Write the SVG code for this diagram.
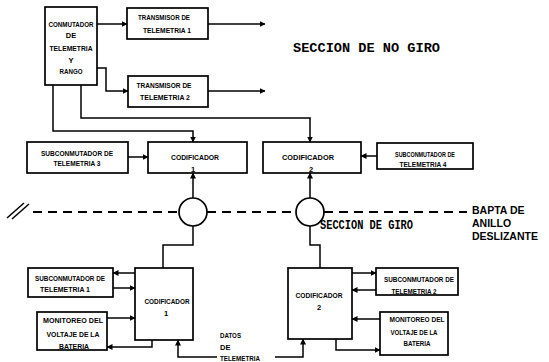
<svg xmlns="http://www.w3.org/2000/svg" width="549" height="362" viewBox="0 0 549 362">
<style>
.box{fill:#fff;stroke:#000;stroke-width:1.7}
.lbl{font-family:"Liberation Sans",Arial,sans-serif;font-weight:bold;font-size:7.5px;fill:#000;text-anchor:middle}
.st{text-anchor:start}
.con{fill:none;stroke:#000;stroke-width:1.5}
.dash{fill:none;stroke:#000;stroke-width:1.8;stroke-dasharray:9 6}
.sec{font-family:"Liberation Mono","Courier New",monospace;font-weight:bold;fill:#000}
.side{font-family:"Liberation Sans",Arial,sans-serif;font-weight:bold;font-size:10.5px;fill:#000}
</style>
<defs>
<marker id="ah" markerWidth="6" markerHeight="6" refX="5.5" refY="3" orient="auto" markerUnits="userSpaceOnUse">
<path d="M0,0 L6,3 L0,6 Z" fill="#000"/>
</marker>
</defs>
<rect width="549" height="362" fill="#fff"/>

<g id="connectors">
<path class="con" d="M97,24 H127" marker-end="url(#ah)"/>
<path class="con" d="M208,24 H265" marker-end="url(#ah)"/>
<path class="con" d="M97,68 H106 V91 H128" marker-end="url(#ah)"/>
<path class="con" d="M208,91 H265" marker-end="url(#ah)"/>
<path class="con" d="M53,85 V131 H193 V142" marker-end="url(#ah)"/>
<path class="con" d="M81,85 V118 H310 V142" marker-end="url(#ah)"/>
<path class="con" d="M128,157 H148" marker-end="url(#ah)"/>
<path class="con" d="M377,156 H361" marker-end="url(#ah)"/>
<path class="con" d="M193,198 V173" marker-end="url(#ah)"/>
<path class="con" d="M310,198 V173" marker-end="url(#ah)"/>
<path class="con" d="M193,226 V245 H163 V268"/>
<path class="con" d="M310,226 V245 H320 V268"/>
<path class="con" d="M135,273 H113" marker-end="url(#ah)"/>
<path class="con" d="M113,288 H135" marker-end="url(#ah)"/>
<path class="con" d="M107,318 H135" marker-end="url(#ah)"/>
<path class="con" d="M152,340 V347 H107" marker-end="url(#ah)"/>
<path class="con" d="M217,357 H178 V340" marker-end="url(#ah)"/>
<path class="con" d="M275,357 H303 V339" marker-end="url(#ah)"/>
<path class="con" d="M352,273 H376" marker-end="url(#ah)"/>
<path class="con" d="M376,290 H352" marker-end="url(#ah)"/>
<path class="con" d="M380,319 H352" marker-end="url(#ah)"/>
<path class="con" d="M336,339 V350 H380" marker-end="url(#ah)"/>
</g>

<g id="slip-ring-line">
<path class="dash" d="M33,212 H180 M207,212 H296 M324,212 H467"/>
<path class="con" stroke-width="1.8" d="M7,218 L24,203 M12,219 L29,204"/>
</g>

<g id="conmutador">
<rect class="box" x="45" y="7" width="52" height="78"/>
<text class="lbl" x="71" y="27" textLength="45" lengthAdjust="spacingAndGlyphs">CONMUTADOR</text>
<text class="lbl" x="71" y="37.5">DE</text>
<text class="lbl" x="71" y="51" textLength="43" lengthAdjust="spacingAndGlyphs">TELEMETRIA</text>
<text class="lbl" x="71" y="63">Y</text>
<text class="lbl" x="71" y="74" textLength="23" lengthAdjust="spacingAndGlyphs">RANGO</text>
</g>

<g id="transmisor1">
<rect class="box" x="127" y="8" width="81" height="31"/>
<text class="lbl" x="164" y="19.5" textLength="52" lengthAdjust="spacingAndGlyphs">TRANSMISOR DE</text>
<text class="lbl" x="167" y="33" textLength="48" lengthAdjust="spacingAndGlyphs">TELEMETRIA 1</text>
</g>

<g id="transmisor2">
<rect class="box" x="128" y="76" width="80" height="31"/>
<text class="lbl" x="164" y="87.5" textLength="55" lengthAdjust="spacingAndGlyphs">TRANSMISOR DE</text>
<text class="lbl" x="165" y="100" textLength="50" lengthAdjust="spacingAndGlyphs">TELEMETRIA 2</text>
</g>

<g id="subconmutador3">
<rect class="box" x="27" y="142" width="101" height="31"/>
<text class="lbl" x="77" y="155.5" textLength="72" lengthAdjust="spacingAndGlyphs">SUBCONMUTADOR DE</text>
<text class="lbl" x="77" y="166" textLength="47" lengthAdjust="spacingAndGlyphs">TELEMETRIA 3</text>
</g>

<g id="codificador1-top">
<rect class="box" x="148" y="142" width="99" height="31"/>
<text class="lbl" x="195" y="159.5" textLength="48" lengthAdjust="spacingAndGlyphs">CODIFICADOR</text>
<text class="lbl" x="193" y="172">1</text>
</g>

<g id="codificador2-top">
<rect class="box" x="263" y="142" width="98" height="31"/>
<text class="lbl" x="308" y="160" textLength="52" lengthAdjust="spacingAndGlyphs">CODIFICADOR</text>
<text class="lbl" x="311" y="172">2</text>
</g>

<g id="subconmutador4">
<rect class="box" x="377" y="143" width="96" height="26"/>
<text class="lbl" x="425" y="157" textLength="60" lengthAdjust="spacingAndGlyphs">SUBCONMUTADOR DE</text>
<text class="lbl" x="423" y="167" textLength="47" lengthAdjust="spacingAndGlyphs">TELEMETRIA 4</text>
</g>

<g id="anillo1">
<circle class="box" cx="193" cy="212" r="14"/>
</g>
<g id="anillo2">
<circle class="box" cx="310" cy="212" r="14"/>
</g>

<g id="titles">
<text class="sec" x="293" y="52" font-size="13" textLength="147" lengthAdjust="spacingAndGlyphs">SECCION DE NO GIRO</text>
<text class="sec" x="320" y="229" font-size="12.5" textLength="93" lengthAdjust="spacingAndGlyphs">SECCION DE GIRO</text>
<text class="side" x="472" y="214">BAPTA DE</text>
<text class="side" x="472" y="227">ANILLO</text>
<text class="side" x="472" y="240">DESLIZANTE</text>
</g>

<g id="subconmutador1">
<rect class="box" x="28" y="268" width="85" height="29"/>
<text class="lbl" x="70" y="281" textLength="70" lengthAdjust="spacingAndGlyphs">SUBCONMUTADOR DE</text>
<text class="lbl" x="65" y="292" textLength="50" lengthAdjust="spacingAndGlyphs">TELEMETRIA 1</text>
</g>

<g id="monitoreo1">
<rect class="box" x="37" y="312" width="70" height="38"/>
<text class="lbl" x="73" y="323" textLength="60" lengthAdjust="spacingAndGlyphs">MONITOREO DEL</text>
<text class="lbl" x="73" y="337" textLength="53" lengthAdjust="spacingAndGlyphs">VOLTAJE DE LA</text>
<text class="lbl" x="74" y="349" textLength="30" lengthAdjust="spacingAndGlyphs">BATERIA</text>
</g>

<g id="codificador1">
<rect class="box" x="135" y="268" width="58" height="72"/>
<text class="lbl" x="167" y="304" textLength="45" lengthAdjust="spacingAndGlyphs">CODIFICADOR</text>
<text class="lbl" x="166" y="316">1</text>
</g>

<g id="datos">
<text class="lbl st" x="220" y="338" textLength="21" lengthAdjust="spacingAndGlyphs">DATOS</text>
<text class="lbl st" x="220" y="350">DE</text>
<text class="lbl st" x="220" y="361" textLength="40" lengthAdjust="spacingAndGlyphs">TELEMETRIA</text>
</g>

<g id="codificador2">
<rect class="box" x="288" y="268" width="64" height="71"/>
<text class="lbl" x="319" y="298" textLength="47" lengthAdjust="spacingAndGlyphs">CODIFICADOR</text>
<text class="lbl" x="319" y="310">2</text>
</g>

<g id="subconmutador2">
<rect class="box" x="376" y="268" width="82" height="27"/>
<text class="lbl" x="419" y="282" textLength="70" lengthAdjust="spacingAndGlyphs">SUBCONMUTADOR DE</text>
<text class="lbl" x="414" y="294" textLength="45" lengthAdjust="spacingAndGlyphs">TELEMETRIA 2</text>
</g>

<g id="monitoreo2">
<rect class="box" x="380" y="312" width="68" height="43"/>
<text class="lbl" x="417" y="322" textLength="55" lengthAdjust="spacingAndGlyphs">MONITOREO DEL</text>
<text class="lbl" x="414" y="335" textLength="47" lengthAdjust="spacingAndGlyphs">VOLTAJE DE LA</text>
<text class="lbl" x="417" y="346" textLength="27" lengthAdjust="spacingAndGlyphs">BATERIA</text>
</g>
</svg>
